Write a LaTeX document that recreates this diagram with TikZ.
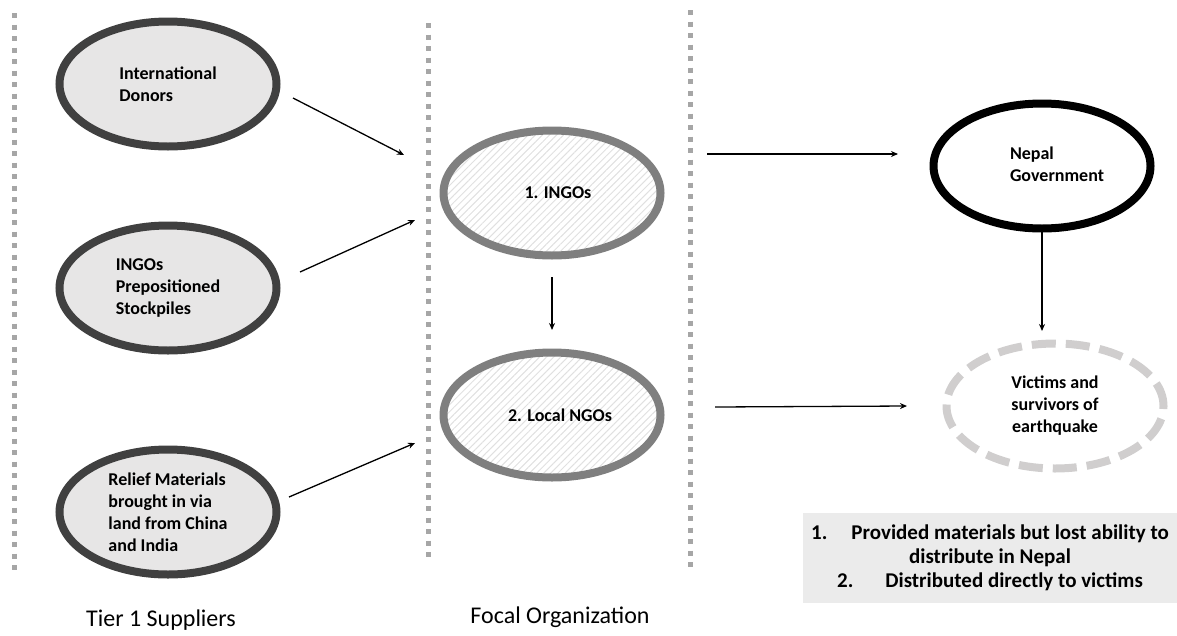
\documentclass[tikz,border=0pt]{standalone}
\usepackage{fontspec}
\setmainfont{Carlito}
\usetikzlibrary{arrows.meta,patterns.meta,shapes.geometric}

\definecolor{supfill}{HTML}{E7E6E6}
\definecolor{supline}{HTML}{404040}
\definecolor{focline}{HTML}{7F7F7F}
\definecolor{hatchgray}{HTML}{E0E0E0}
\definecolor{vicline}{HTML}{D0CECE}
\definecolor{sepgray}{HTML}{A6A6A6}
\definecolor{notefill}{HTML}{EBEBEB}

\tikzset{
    actor/.style={ellipse, minimum width=217pt, minimum height=125pt, inner sep=0pt, outer sep=0pt,
        line width=8pt, font=\fontsize{18}{22}\selectfont\bfseries, align=left},
    supplier/.style={actor, draw=supline, fill=supfill},
    focal/.style={actor, draw=focline, pattern={Lines[angle=45,distance=5pt,line width=1pt]}, pattern color=hatchgray},
    govt/.style={actor, draw=black},
    victim/.style={actor, draw=vicline, dash pattern=on 24pt off 10pt, align=center},
    flow/.style={-{Stealth[length=7pt,width=6pt]}, line width=1.3pt},
    divider/.style={sepgray, line width=5pt, dash pattern=on 5pt off 6.5pt},
    tier/.style={font=\fontsize{24}{28}\selectfont}
}

\begin{document}
\begin{tikzpicture}[x=1pt, y=-1pt]
    \useasboundingbox (0,0) rectangle (1177,635);

    % Dividers between the tiers
    \draw[divider] (14,13) -- (14,575);
    \draw[divider] (428,23) -- (428,559);
    \draw[divider] (690,10) -- (690,570);

    % Tier 1 suppliers
    \node[supplier] (donors) at (168,84) {International\\Donors};
    \node[supplier] (stock) at (168,288) {INGOs\\Prepositioned\\Stockpiles};
    \node[supplier] (relief) at (168,512) {Relief Materials\\brought in via\\land from China\\and India};

    % Focal organization
    \node[focal] (ingos) at (552,193) {\hspace*{12pt}1. INGOs};
    \node[focal] (local) at (552,415) {\hspace*{16pt}2. Local NGOs};

    % Receivers
    \node[govt, align=none] (nepal) at (1042,166)
        {\begin{tabular}{@{\hspace{30pt}}l@{}}Nepal\\Government\end{tabular}};
    \node[victim] (victims) at (1055,406) {Victims and\\survivors of\\earthquake};

    % Flows
    \draw[flow] ([shift={(16.5,14)}]donors.east) -- ([shift={(-39.5,-38)}]ingos.west);
    \draw[flow] ([shift={(23.5,-16)}]stock.east) -- ([shift={(-28.5,27)}]ingos.west);
    \draw[flow] ([shift={(12.5,-15)}]relief.east) -- ([shift={(-28.5,28)}]local.west);
    \draw[flow, shorten <=21.5pt, shorten >=22.5pt] (ingos.south) -- (local.north);
    \draw[flow] ([shift={(46.5,-39)}]ingos.east) -- ([shift={(-35.5,-12)}]nepal.west);
    \draw[flow] ([shift={(54.5,-8)}]local.east) -- ([shift={(-39.5,0)}]victims.west);
    \draw[flow, shorten >=12.5pt] (nepal.south) -- (nepal.south |- victims.north);

    % Note box
    \node[fill=notefill, minimum width=374pt, minimum height=90pt, inner sep=0pt, align=center,
        font=\fontsize{21}{24}\selectfont\bfseries] (note) at (990,558)
        {1.\hspace{24pt}Provided materials but lost ability to\\distribute in Nepal\\2.\hspace{32pt}Distributed directly to victims};

    % Tier labels
    \node[tier] (tier1) at (161,620) {Tier 1 Suppliers};
    \node[tier] (tier2) at (560,617) {Focal Organization};
\end{tikzpicture}
\end{document}
